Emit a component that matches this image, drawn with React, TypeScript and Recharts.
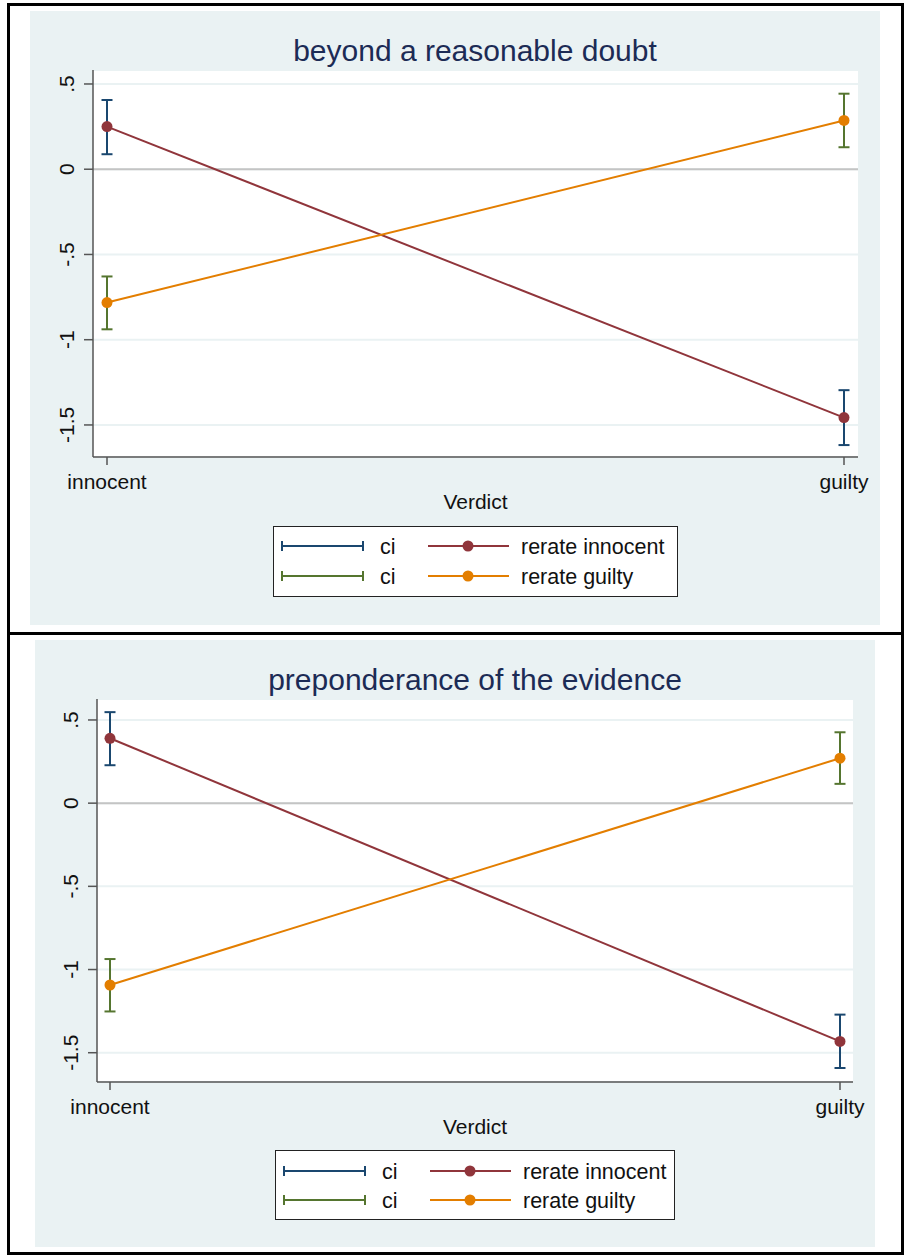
import React from 'react'
import { ComposedChart, Line, XAxis, YAxis, CartesianGrid, ReferenceLine, ErrorBar } from 'recharts'

// categories + axis ticks
const VERDICTS = ['innocent', 'guilty']
const Y_TICKS = [0.5, 0, -0.5, -1, -1.5]
const Y_TICK_TEXT = ['.5', '0', '-.5', '-1', '-1.5']

// beyond a reasonable doubt
const brdInnocent = [0.25, -1.457]
const brdInnocentLo = [0.088, -1.618]
const brdInnocentHi = [0.406, -1.296]
const brdGuilty = [-0.782, 0.286]
const brdGuiltyLo = [-0.939, 0.129]
const brdGuiltyHi = [-0.629, 0.443]

// preponderance of the evidence
const poeInnocent = [0.39, -1.432]
const poeInnocentLo = [0.228, -1.592]
const poeInnocentHi = [0.547, -1.271]
const poeGuilty = [-1.093, 0.27]
const poeGuiltyLo = [-1.252, 0.116]
const poeGuiltyHi = [-0.937, 0.426]

const LEGEND_LABELS = ['rerate innocent', 'rerate guilty']

const BG = '#eaf2f3'
const NAVY = '#1a476f'
const MAROON = '#90353b'
const GREEN = '#55752f'
const ORANGE = '#e37e00'
const TITLE_COLOR = '#1c2b55'
const AXIS = '#555'
const FONT = '"Liberation Sans", Arial, sans-serif'

function buildRows(ri: number[], riLo: number[], riHi: number[], rg: number[], rgLo: number[], rgHi: number[]) {
  return VERDICTS.map((v, i) => ({
    verdict: v,
    ri: ri[i],
    riErr: [ri[i] - riLo[i], riHi[i] - ri[i]],
    rg: rg[i],
    rgErr: [rg[i] - rgLo[i], rgHi[i] - rg[i]],
  }))
}

const YTick = ({ x, y, payload }: any) => {
  const idx = Y_TICKS.indexOf(payload.value)
  const label = idx >= 0 ? Y_TICK_TEXT[idx] : String(payload.value)
  return (
    <text
      transform={`translate(${x - 8},${y}) rotate(-90)`}
      textAnchor="middle"
      fontFamily={FONT}
      fontSize={21}
      fill="#111"
    >
      {label}
    </text>
  )
}

const XTick = ({ x, y, payload }: any) => (
  <text x={x} y={y + 22} textAnchor="middle" fontFamily={FONT} fontSize={21} fill="#111">
    {payload.value}
  </text>
)

const VerdictLabel = ({ viewBox }: any) => {
  if (!viewBox) return null
  return (
    <text
      x={viewBox.x + viewBox.width / 2}
      y={viewBox.y + 52}
      textAnchor="middle"
      fontFamily={FONT}
      fontSize={21}
      fill="#111"
    >
      Verdict
    </text>
  )
}

function LegendBox({ left, top, width, height, rowY }: any) {
  const ciColors = [NAVY, GREEN]
  const lineColors = [MAROON, ORANGE]
  return (
    <g transform={`translate(${left},${top})`}>
      <rect x={0.5} y={0.5} width={width} height={height} fill="#fff" stroke="#222" strokeWidth={1} />
      {rowY.map((ry: number, i: number) => (
        <g key={i}>
          <line x1={9} x2={90} y1={ry} y2={ry} stroke={ciColors[i]} strokeWidth={2} />
          <line x1={9} x2={9} y1={ry - 5} y2={ry + 5} stroke={ciColors[i]} strokeWidth={2} />
          <line x1={90} x2={90} y1={ry - 5} y2={ry + 5} stroke={ciColors[i]} strokeWidth={2} />
          <text x={107} y={ry + 8} fontFamily={FONT} fontSize={21.5} fill="#111">ci</text>
          <line x1={155} x2={236} y1={ry} y2={ry} stroke={lineColors[i]} strokeWidth={2} />
          <circle cx={195} cy={ry} r={5.5} fill={lineColors[i]} />
          <text x={248} y={ry + 8} fontFamily={FONT} fontSize={21.5} fill="#111">{LEGEND_LABELS[i]}</text>
        </g>
      ))}
    </g>
  )
}

function Panel({ box, title, rows, domain, yAxisWidth, bottom, pad, legend }: any) {
  const { left, top, width, height } = box
  return (
    <div style={{ position: 'absolute', left, top, width, height, background: BG }}>
      <ComposedChart
        width={width}
        height={height}
        data={rows}
        margin={{ top: 59, right: 22, left: 0, bottom: bottom - 60 }}
      >
        <CartesianGrid vertical={false} stroke={BG} strokeWidth={2} fill="#fff" />
        <XAxis
          dataKey="verdict"
          type="category"
          height={60}
          padding={{ left: pad, right: pad }}
          tickSize={8}
          tick={<XTick />}
          axisLine={{ stroke: AXIS, strokeWidth: 1.5 }}
          tickLine={{ stroke: AXIS, strokeWidth: 1.5 }}
          label={<VerdictLabel />}
        />
        <YAxis
          type="number"
          width={yAxisWidth}
          domain={domain}
          ticks={Y_TICKS}
          allowDataOverflow
          tickSize={9}
          tick={<YTick />}
          axisLine={{ stroke: AXIS, strokeWidth: 1.5 }}
          tickLine={{ stroke: AXIS, strokeWidth: 1.5 }}
        />
        <ReferenceLine y={0} stroke="#c4c4c4" strokeWidth={2} />
        <Line
          dataKey="ri"
          stroke={MAROON}
          strokeWidth={2}
          dot={{ r: 5.5, fill: MAROON, stroke: MAROON, strokeWidth: 0 }}
          activeDot={false}
          isAnimationActive={false}
        >
          <ErrorBar dataKey="riErr" direction="y" stroke={NAVY} strokeWidth={2} width={5.5} isAnimationActive={false} />
        </Line>
        <Line
          dataKey="rg"
          stroke={ORANGE}
          strokeWidth={2}
          dot={{ r: 5.5, fill: ORANGE, stroke: ORANGE, strokeWidth: 0 }}
          activeDot={false}
          isAnimationActive={false}
        >
          <ErrorBar dataKey="rgErr" direction="y" stroke={GREEN} strokeWidth={2} width={5.5} isAnimationActive={false} />
        </Line>
      </ComposedChart>
      <svg
        width={width}
        height={height}
        style={{ position: 'absolute', left: 0, top: 0, pointerEvents: 'none' }}
      >
        <text x={width / 2 + 20} y={50} textAnchor="middle" fontFamily={FONT} fontSize={30} fill={TITLE_COLOR}>
          {title}
        </text>
        <LegendBox {...legend} />
      </svg>
    </div>
  )
}

export default function App() {
  const topRows = buildRows(brdInnocent, brdInnocentLo, brdInnocentHi, brdGuilty, brdGuiltyLo, brdGuiltyHi)
  const bottomRows = buildRows(poeInnocent, poeInnocentLo, poeInnocentHi, poeGuilty, poeGuiltyLo, poeGuiltyHi)

  return (
    <div style={{ position: 'absolute', left: 0, top: 0, width: 904, height: 1256, background: '#fff' }}>
      <Panel
        box={{ left: 30, top: 11, width: 850, height: 614 }}
        title="beyond a reasonable doubt"
        rows={topRows}
        domain={[-1.688, 0.582]}
        yAxisWidth={63}
        bottom={168}
        pad={14}
        legend={{ left: 243, top: 515, width: 404, height: 70, rowY: [20, 50] }}
      />
      <Panel
        box={{ left: 35, top: 640, width: 840, height: 607 }}
        title="preponderance of the evidence"
        rows={bottomRows}
        domain={[-1.676, 0.626]}
        yAxisWidth={62}
        bottom={165}
        pad={13}
        legend={{ left: 240, top: 510, width: 399, height: 69, rowY: [21, 50] }}
      />
      {/* outer frame + divider */}
      <div style={{ position: 'absolute', left: 7, top: 3, width: 897, height: 1252, boxSizing: 'border-box', border: '3px solid #000' }} />
      <div style={{ position: 'absolute', left: 7, top: 632, width: 897, height: 3, background: '#000' }} />
    </div>
  )
}
